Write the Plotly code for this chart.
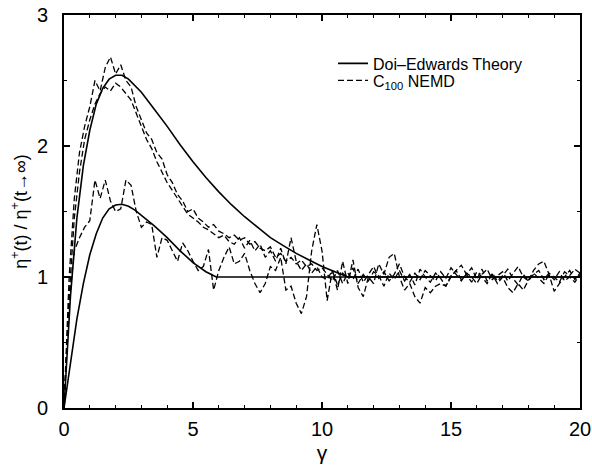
import plotly.graph_objects as go

# Doi-Edwards theory curves
theory_hi_x = [0, 0.1, 0.25, 0.5, 0.75, 1.0, 1.25, 1.5, 1.75, 2.0, 2.25, 2.5, 2.75, 3.0, 3.5, 4.0, 4.5,
               5.0, 5.5, 6.0, 6.5, 7.0, 7.5, 8.0, 8.5, 9.0, 9.5, 10.0, 10.5, 11.0, 20.0]
theory_hi_y = [0, 0.35, 0.85, 1.45, 1.85, 2.12, 2.32, 2.44, 2.51, 2.54, 2.54, 2.51, 2.46, 2.41, 2.28, 2.15, 2.01,
               1.88, 1.76, 1.65, 1.55, 1.46, 1.38, 1.30, 1.24, 1.18, 1.13, 1.08, 1.04, 1.0, 1.0]
theory_lo_x = [0, 0.25, 0.5, 0.75, 1.0, 1.25, 1.5, 1.75, 2.0, 2.25, 2.5, 2.75, 3.0, 3.5, 4.0, 4.5,
               5.0, 5.5, 5.9, 20.0]
theory_lo_y = [0, 0.35, 0.68, 0.95, 1.17, 1.33, 1.45, 1.52, 1.55, 1.555, 1.54, 1.51, 1.47, 1.39, 1.30, 1.20,
               1.11, 1.04, 1.0, 1.0]

# C100 NEMD runs, sampled every 0.2 strain units
gamma = [round(0.2 * i, 1) for i in range(101)]
nemd_a = [0.0, 1.0, 1.6, 1.95, 2.15, 2.3, 2.5, 2.42, 2.6, 2.68,
          2.55, 2.62, 2.5, 2.45, 2.3, 2.2, 2.1, 2.05, 1.95, 1.9,
          1.78, 1.72, 1.63, 1.58, 1.5, 1.52, 1.45, 1.42, 1.38, 1.4,
          1.35, 1.33, 1.3, 1.32, 1.28, 1.3, 1.25, 1.27, 1.22, 1.2,
          1.23, 1.15, 1.18, 1.12, 1.15, 1.1, 1.13, 1.08, 1.1, 1.05,
          1.07,
          1.02, 0.97, 1.05, 0.95, 1.03, 0.98, 1.06, 0.96, 1.02, 1.08,
          0.99, 1.04, 0.97, 1.02, 1.10, 1.00, 0.96, 1.03, 0.98, 1.05,
          1.01, 0.97, 1.04, 0.99, 1.07, 1.02, 0.97, 1.03, 1.00, 0.95,
          1.02, 1.06, 0.98, 1.01, 1.04, 0.97, 1.03, 1.08, 1.00, 0.97,
          1.02, 1.05, 0.98, 1.03, 1.00, 0.96, 1.04, 1.01, 1.06, 1.03]
nemd_b = [0.0, 0.85, 1.45, 1.8, 2.05, 2.2, 2.32, 2.4, 2.45, 2.42,
          2.48, 2.45, 2.4, 2.35, 2.25, 2.15, 2.05, 1.98, 1.88, 1.8,
          1.72, 1.66, 1.6, 1.55, 1.48, 1.45, 1.42, 1.38, 1.36, 1.33,
          1.3, 1.32, 1.27, 1.25, 1.3, 1.22, 1.28, 1.2, 1.25, 1.15,
          1.2, 1.12, 1.22, 1.1, 1.3, 1.12, 1.05, 1.1, 1.03, 1.08,
          1.0,
          0.98, 1.05, 0.94, 1.03, 0.99, 1.07, 0.95, 1.02, 0.97, 1.04,
          1.01, 0.93, 1.03, 0.98, 1.05, 0.97, 1.02, 0.94, 1.06, 1.00,
          0.96, 1.03, 0.99, 0.93, 1.01, 1.05, 0.98, 1.02, 0.96, 1.04,
          1.00, 0.95, 1.03, 0.97, 1.01, 1.06, 0.99, 0.94, 1.02, 0.97,
          1.03, 0.99, 0.95, 1.02, 0.98, 1.04, 0.97, 1.00, 0.96, 1.02]
nemd_c = [0.0, 0.8, 1.2, 1.3, 1.38, 1.43, 1.74, 1.6, 1.74, 1.58,
          1.5, 1.52, 1.74, 1.7, 1.5, 1.38, 1.42, 1.4, 1.15, 1.3,
          1.28, 1.2, 1.12, 1.26, 1.2, 1.12, 1.05, 1.08, 1.21, 0.9,
          1.05, 1.15, 1.23, 1.1, 1.12, 1.18, 1.05, 0.95, 0.88, 0.95,
          1.08, 1.05, 1.15, 0.9, 0.93, 0.8, 0.72, 0.85, 1.2, 1.4,
          1.2,
          0.82, 1.05, 0.9, 1.12, 0.95, 1.13, 0.92, 0.85, 1.0, 0.95,
          1.1, 1.02, 1.15, 1.18, 1.0, 0.9, 0.95, 0.85, 0.8, 0.92,
          0.88, 0.93, 0.95, 0.93, 1.0, 1.05, 1.09, 1.02, 1.07, 0.98,
          1.06, 0.97, 1.02, 0.95, 1.0, 0.92, 0.88, 0.95, 0.9, 0.98,
          1.05, 1.10, 1.12, 1.02, 0.89, 0.95, 1.0, 1.05, 0.98, 1.03]

FONT = "Liberation Sans, Arial, Helvetica, sans-serif"
DASH = "6px,3px"

fig = go.Figure()
fig.add_trace(go.Scatter(x=theory_hi_x, y=theory_hi_y, mode="lines", name="Doi\u2013Edwards Theory",
                         line=dict(color="black", width=1.6), legend="legend"))
fig.add_trace(go.Scatter(x=theory_lo_x, y=theory_lo_y, mode="lines", showlegend=False,
                         line=dict(color="black", width=1.6)))
fig.add_trace(go.Scatter(x=gamma, y=nemd_a, mode="lines", name="C<sub>100</sub> NEMD",
                         line=dict(color="black", width=1.3, dash=DASH), legend="legend2"))
fig.add_trace(go.Scatter(x=gamma, y=nemd_b, mode="lines", showlegend=False,
                         line=dict(color="black", width=1.3, dash=DASH)))
fig.add_trace(go.Scatter(x=gamma, y=nemd_c, mode="lines", showlegend=False,
                         line=dict(color="black", width=1.3, dash=DASH)))

axis_common = dict(showline=True, linecolor="black", linewidth=2, mirror="ticks",
                   ticks="inside", tickcolor="black", tickwidth=1.5, ticklen=6,
                   showgrid=False, zeroline=False, automargin=False,
                   tickfont=dict(family=FONT, size=20, color="black"))

fig.update_xaxes(range=[0, 20], dtick=5, tick0=0, ticklabelstandoff=2,
                 minor=dict(dtick=1, ticks="inside", ticklen=3, tickcolor="black", tickwidth=1.2, showgrid=False),
                 title=dict(text="\u03b3", font=dict(family=FONT, size=21, color="black"), standoff=6),
                 **axis_common)
fig.update_yaxes(range=[0, 3], dtick=1, tick0=0, ticklabelstandoff=10,
                 minor=dict(dtick=0.5, ticks="inside", ticklen=3, tickcolor="black", tickwidth=1.2, showgrid=False),
                 title=dict(text="\u03b7<sup>+</sup>(t) / \u03b7<sup>+</sup>(t\u2192\u221e)",
                            font=dict(family=FONT, size=18, color="black"), standoff=5),
                 **axis_common)

legend_style = dict(xanchor="left", yanchor="top", bgcolor="rgba(0,0,0,0)",
                    font=dict(family=FONT, size=16, color="black"))
fig.update_layout(
    width=592, height=468,
    margin=dict(l=64, r=12, t=15, b=60, autoexpand=False),
    paper_bgcolor="white", plot_bgcolor="white",
    font=dict(family=FONT, color="black"),
    legend=dict(x=0.5213, y=0.92, **legend_style),
    legend2=dict(x=0.5213, y=0.8766, **legend_style),
)

fig.write_html("out.html", config={"displayModeBar": False},
               post_script="document.body.style.margin='0';document.body.style.overflow='hidden';")
